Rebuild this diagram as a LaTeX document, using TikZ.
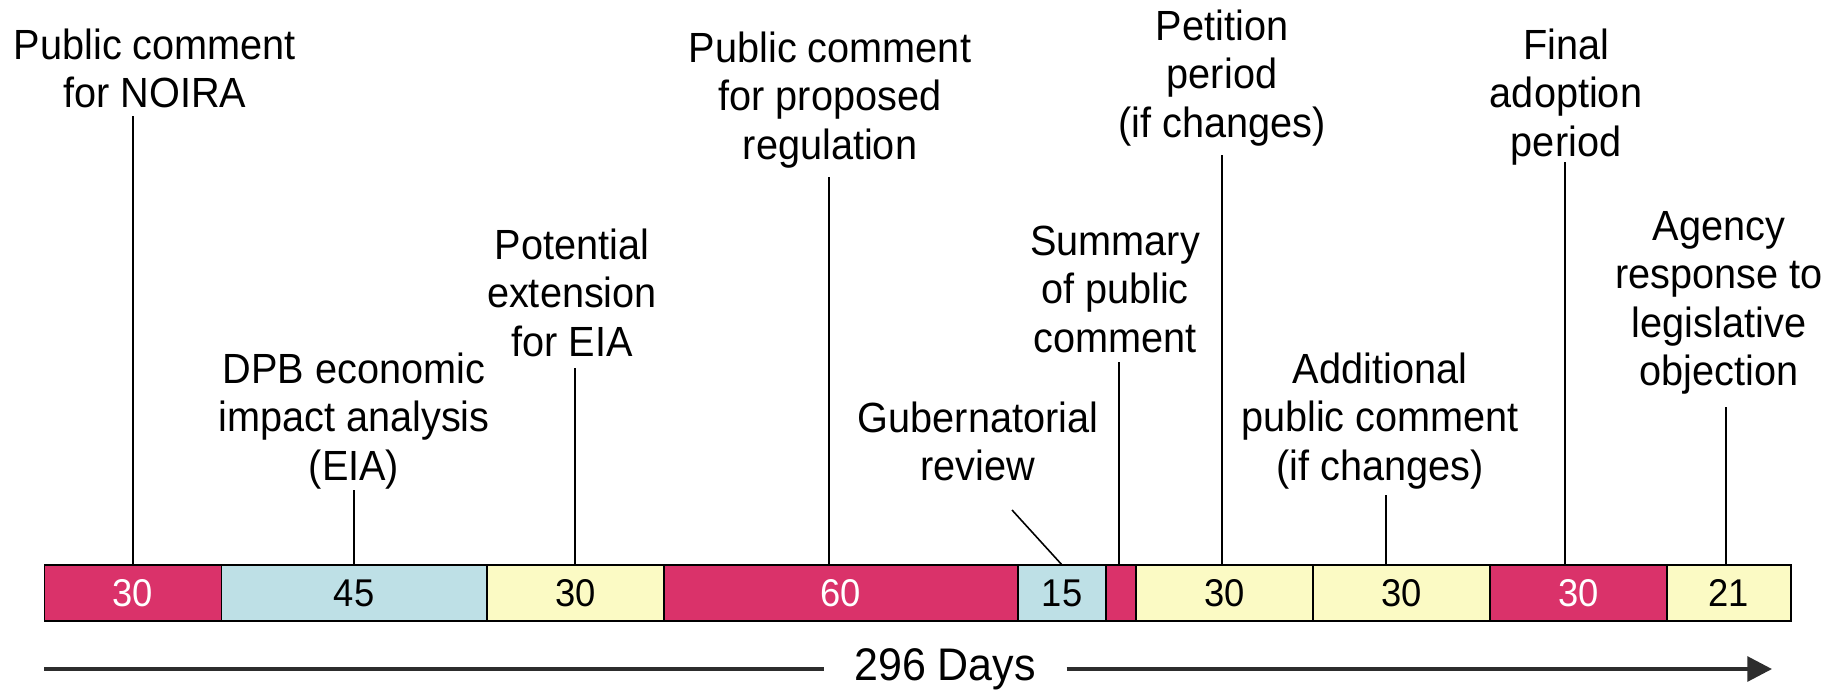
\documentclass[tikz,border=0pt]{standalone}
\usepackage{fontspec}
\setmainfont{Liberation Sans}[FakeStretch=0.94]
\usetikzlibrary{arrows.meta}
\definecolor{segred}{RGB}{218,50,106}
\definecolor{segblue}{RGB}{190,224,230}
\definecolor{segyellow}{RGB}{251,250,196}
\definecolor{linegray}{RGB}{45,45,45}
\newcommand{\firstline}{\rule{0pt}{10pt}}
\begin{document}
\begin{tikzpicture}[x=0.01cm,y=-0.01cm,
  lab/.style={align=center, inner sep=0pt, outer sep=0pt, anchor=north, font=\fontsize{12}{13.8}\selectfont},
  segbox/.style={draw=black, line width=0.5pt, minimum height=0.56cm, inner sep=0pt, outer sep=0pt, anchor=west, font=\fontsize{11}{12}\selectfont},
  redseg/.style={segbox, fill=segred, text=white},
  blueseg/.style={segbox, fill=segblue, text=black},
  yellowseg/.style={segbox, fill=segyellow, text=black},
  conn/.style={draw=black, line width=0.45pt},
  arrowline/.style={draw=linegray, line width=1.1pt}]
\useasboundingbox (0,0) rectangle (1834,696);
% bar segments
\node[redseg, minimum width=1.7688cm] (s1) at (44.4,593) {30};
\node[blueseg, minimum width=2.6532cm] (s2) at (s1.east) {45};
\node[yellowseg, minimum width=1.7688cm] (s3) at (s2.east) {30};
\node[redseg, minimum width=3.5376cm] (s4) at (s3.east) {60};
\node[blueseg, minimum width=0.8844cm] (s5) at (s4.east) {15};
\node[redseg, minimum width=0.2948cm] (s6) at (s5.east) {};
\node[yellowseg, minimum width=1.7688cm] (s7) at (s6.east) {30};
\node[yellowseg, minimum width=1.7688cm] (s8) at (s7.east) {30};
\node[redseg, minimum width=1.7688cm] (s9) at (s8.east) {30};
\node[yellowseg, minimum width=1.2382cm] (s10) at (s9.east) {21};
% labels (north = first baseline - 10pt)
\node[lab] (l1) at (155,24) {\firstline Public comment\\for NOIRA};
\node[lab] (l2) at (354,348) {\firstline DPB economic\\impact analysis\\(EIA)};
\node[lab] (l3) at (572,224) {\firstline Potential\\extension\\for EIA};
\node[lab] (l4) at (830,27) {\firstline Public comment\\for proposed\\regulation};
\node[lab] (l5) at (978,397) {\firstline Gubernatorial\\review};
\node[lab] (l6) at (1115,220) {\firstline Summary\\of public\\comment};
\node[lab] (l7) at (1222,5) {\firstline Petition\\period\\(if changes)};
\node[lab] (l8) at (1380,348) {\firstline Additional\\public comment\\(if changes)};
\node[lab] (l9) at (1566,24) {\firstline Final\\adoption\\period};
\node[lab] (l10) at (1719,205) {\firstline Agency\\response to\\legislative\\objection};
% connector tops
\coordinate (t1) at (132.85,116);
\coordinate (t2) at (354,490);
\coordinate (t3) at (575,368);
\coordinate (t4) at (829,177);
\coordinate (t5) at (1012,510);
\coordinate (t6) at (1119,362);
\coordinate (t7) at (1222,155);
\coordinate (t8) at (1386,495);
\coordinate (t9) at (1565,162);
\coordinate (t10) at (1726,407);
\draw[conn] (t1) -- (t1 |- s1.north);
\draw[conn] (t2) -- (t2 |- s2.north);
\draw[conn] (t3) -- (t3 |- s3.north);
\draw[conn] (t4) -- (t4 |- s4.north);
\draw[conn] (t5) -- (s5.north);
\draw[conn] (t6) -- (t6 |- s6.north);
\draw[conn] (t7) -- (t7 |- s7.north);
\draw[conn] (t8) -- (t8 |- s8.north);
\draw[conn] (t9) -- (t9 |- s9.north);
\draw[conn] (t10) -- (t10 |- s10.north);
% total arrow
\node[font=\fontsize{13}{14}\selectfont, inner xsep=0.3cm, inner ysep=0pt] (days) at (945,669) {296 Days};
\coordinate (a0) at (44,669);
\coordinate (a1) at (1772,669);
\draw[arrowline] (a0) -- (days.west);
\draw[arrowline, -{Triangle[length=7pt, width=7pt]}] (days.east) -- (a1);
\end{tikzpicture}
\end{document}
